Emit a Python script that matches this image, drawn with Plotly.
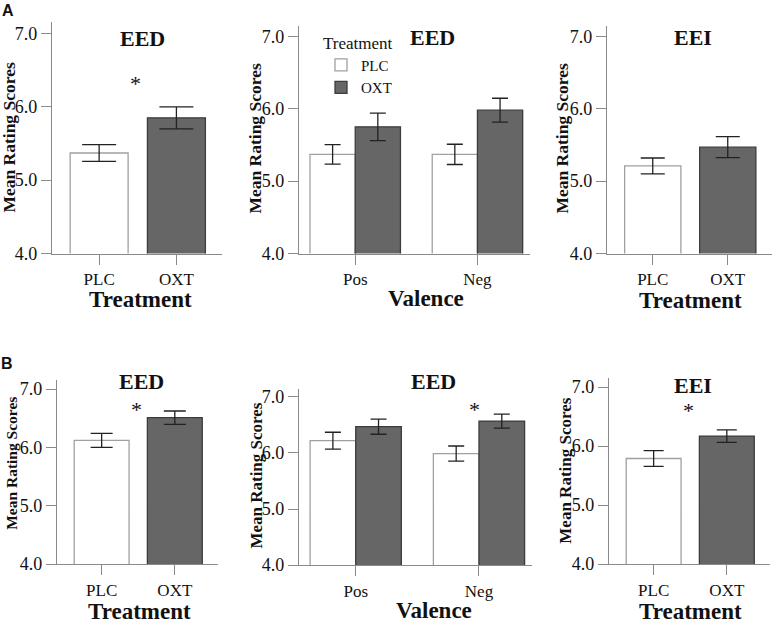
import plotly.graph_objects as go

W, H = 774, 632          # design coordinates (reference picture size)

# ---------------- data ----------------
treat_cats = ["PLC", "OXT"]
valence_cats = ["Pos", "Neg"]
y_tickvals = [4.0, 5.0, 6.0, 7.0]
y_ticktext = ["4.0", "5.0", "6.0", "7.0"]

# Panel A
a1_means = [5.37, 5.85]
a1_err = [0.115, 0.15]
a2_plc = [5.37, 5.37]
a2_plc_err = [0.135, 0.14]
a2_oxt = [5.75, 5.98]
a2_oxt_err = [0.19, 0.165]
a3_means = [5.21, 5.47]
a3_err = [0.11, 0.145]

# Panel B
b1_means = [6.12, 6.51]
b1_err = [0.12, 0.115]
b2_plc = [6.22, 5.99]
b2_plc_err = [0.15, 0.135]
b2_oxt = [6.47, 6.57]
b2_oxt_err = [0.135, 0.125]
b3_means = [5.79, 6.17]
b3_err = [0.135, 0.105]

# ---------------- style ----------------
SERIF = "Liberation Serif, Times New Roman, serif"
PLC_FILL, PLC_LINE = "#ffffff", "#a0a0a0"
OXT_FILL, OXT_LINE = "#666666", "#3c3c3c"
AXIS_COL = "#8a8a8a"
TXT = "#111111"

fig = go.Figure()

def xp(px):
    return px / W

def yp(py):
    return 1 - py / H

panels = {
    "A1": dict(xl=52, xr=222, y4=257, y7=33, kind="treat"),
    "A2": dict(xl=299, xr=530, y4=257, y7=36, kind="val"),
    "A3": dict(xl=607, xr=772, y4=257, y7=36, kind="treat"),
    "B1": dict(xl=57, xr=218, y4=573, y7=395, kind="treat"),
    "B2": dict(xl=299, xr=532, y4=574, y7=403, kind="val"),
    "B3": dict(xl=609, xr=770, y4=573, y7=393, kind="treat"),
}
YTOP = 7.15
layout_axes = {}
for i, (name, p) in enumerate(panels.items(), start=1):
    unit = (p["y4"] - p["y7"]) / 3.0
    ytop_px = p["y7"] - (YTOP - 7.0) * unit
    xa = "xaxis" if i == 1 else f"xaxis{i}"
    ya = "yaxis" if i == 1 else f"yaxis{i}"
    if p["kind"] == "treat":
        xr = [-0.61, 1.59]
        cats = treat_cats
    else:
        xr = [-0.46, 1.43]
        cats = valence_cats
    layout_axes[xa] = dict(
        domain=[xp(p["xl"]), xp(p["xr"])], range=xr, anchor=f"y{i}" if i > 1 else "y",
        showline=True, linecolor=AXIS_COL, linewidth=1.3, ticks="outside", ticklen=10,
        tickcolor=AXIS_COL, tickwidth=1.2, tickvals=[0, 1], ticktext=cats,
        tickfont=dict(family=SERIF, size=17, color=TXT), showgrid=False, zeroline=False,
        fixedrange=True,
    )
    layout_axes[ya] = dict(
        domain=[yp(p["y4"]), yp(ytop_px)], range=[4.0, YTOP], anchor=f"x{i}" if i > 1 else "x",
        showline=True, linecolor=AXIS_COL, linewidth=1.3, ticks="outside", ticklen=10,
        tickcolor=AXIS_COL, tickwidth=1.2, tickvals=y_tickvals, ticktext=y_ticktext,
        tickfont=dict(family=SERIF, size=18, color=TXT), showgrid=False, zeroline=False,
        fixedrange=True,
    )
    p["xref"] = f"x{i}" if i > 1 else "x"
    p["yref"] = f"y{i}" if i > 1 else "y"


def treat_panel(p, means, errs, capw):
    fig.add_trace(go.Bar(
        x=[0, 1], y=means, width=0.75, xaxis=p["xref"], yaxis=p["yref"],
        marker=dict(color=[PLC_FILL, OXT_FILL], line=dict(color=[PLC_LINE, OXT_LINE], width=1.3)),
        error_y=dict(type="data", array=errs, color="#222222", thickness=1.3, width=capw),
        showlegend=False, hoverinfo="skip",
    ))


def val_panel(p, plc, plc_err, oxt, oxt_err, capw, legend):
    fig.add_trace(go.Bar(
        x=[0, 1], y=plc, width=0.37, offset=-0.37, name="PLC", xaxis=p["xref"], yaxis=p["yref"],
        marker=dict(color=PLC_FILL, line=dict(color=PLC_LINE, width=1.3)),
        error_y=dict(type="data", array=plc_err, color="#222222", thickness=1.3, width=capw),
        showlegend=legend, legendgroup="PLC", hoverinfo="skip",
    ))
    fig.add_trace(go.Bar(
        x=[0, 1], y=oxt, width=0.37, offset=0.0, name="OXT", xaxis=p["xref"], yaxis=p["yref"],
        marker=dict(color=OXT_FILL, line=dict(color=OXT_LINE, width=1.3)),
        error_y=dict(type="data", array=oxt_err, color="#222222", thickness=1.3, width=capw),
        showlegend=legend, legendgroup="OXT", hoverinfo="skip",
    ))


treat_panel(panels["A1"], a1_means, a1_err, 17)
val_panel(panels["A2"], a2_plc, a2_plc_err, a2_oxt, a2_oxt_err, 8, True)
treat_panel(panels["A3"], a3_means, a3_err, 12)
treat_panel(panels["B1"], b1_means, b1_err, 11)
val_panel(panels["B2"], b2_plc, b2_plc_err, b2_oxt, b2_oxt_err, 8, False)
treat_panel(panels["B3"], b3_means, b3_err, 10)

annotations = []

def ann(text, x, y, size, bold=False, angle=0, family=SERIF):
    annotations.append(dict(
        text=f"<b>{text}</b>" if bold else text, x=xp(x), y=yp(y), xref="paper", yref="paper",
        showarrow=False, xanchor="center", yanchor="middle", textangle=angle,
        font=dict(family=family, size=size, color=TXT),
    ))

# panel titles
ann("EED", 142, 38, 22, True)
ann("EED", 432, 37, 22, True)
ann("EEI", 693, 37, 22, True)
ann("EED", 141, 387, 22, True)
ann("EED", 433, 387, 22, True)
ann("EEI", 693, 391, 22, True)

# x axis titles
ann("Treatment", 140, 304, 23, True)
ann("Valence", 426, 303, 23, True)
ann("Treatment", 690, 305, 23, True)
ann("Treatment", 139, 621, 23, True)
ann("Valence", 434, 620, 23, True)
ann("Treatment", 690, 621, 23, True)

# y axis titles
ann("Mean Rating Scores", 9, 139, 17.5, True, -90)
ann("Mean Rating Scores", 255, 139, 17.5, True, -90)
ann("Mean Rating Scores", 562, 140, 17.5, True, -90)
ann("Mean Rating Scores", 12, 471, 15.5, True, -90)
ann("Mean Rating Scores", 257, 483, 17, True, -90)
ann("Mean Rating Scores", 566, 478, 17, True, -90)

# panel letters
ann("A", 8, 10, 16, True, 0, "Liberation Sans, Arial, sans-serif")
ann("B", 7, 369, 16, True, 0, "Liberation Sans, Arial, sans-serif")

# significance stars (data coordinates)
stars = [("A1", 0.47, 6.37), ("B1", 0.47, 6.72), ("B2", 0.96, 6.84), ("B3", 0.48, 6.68)]
for name, sx, sy in stars:
    p = panels[name]
    annotations.append(dict(
        text="*", x=sx, y=sy, xref=p["xref"], yref=p["yref"], showarrow=False,
        xanchor="center", yanchor="middle", yshift=-4,
        font=dict(family=SERIF, size=22, color=TXT),
    ))

fig.update_layout(
    autosize=True,
    margin=dict(l=0, r=0, t=0, b=0),
    paper_bgcolor="white", plot_bgcolor="white",
    barmode="overlay",
    annotations=annotations,
    legend=dict(
        x=xp(321), y=yp(26), xanchor="left", yanchor="top",
        title=dict(text="Treatment", font=dict(family=SERIF, size=17, color=TXT)),
        font=dict(family=SERIF, size=15, color=TXT), bgcolor="rgba(0,0,0,0)",
        itemwidth=30, tracegroupgap=0, traceorder="normal",
    ),
    **layout_axes,
)

fig.write_html(
    "out.html",
    default_width="100vw",
    default_height="100vh",
    config={"displayModeBar": False},
    post_script=(
        "var gd=document.getElementById('{plot_id}');"
        "document.documentElement.style.margin='0';"
        "document.documentElement.style.overflow='hidden';"
        "document.body.style.margin='0';"
        "document.body.style.padding='0';"
        "document.body.style.overflow='hidden';"
        "return Plotly.Plots.resize(gd);"
    ),
)
